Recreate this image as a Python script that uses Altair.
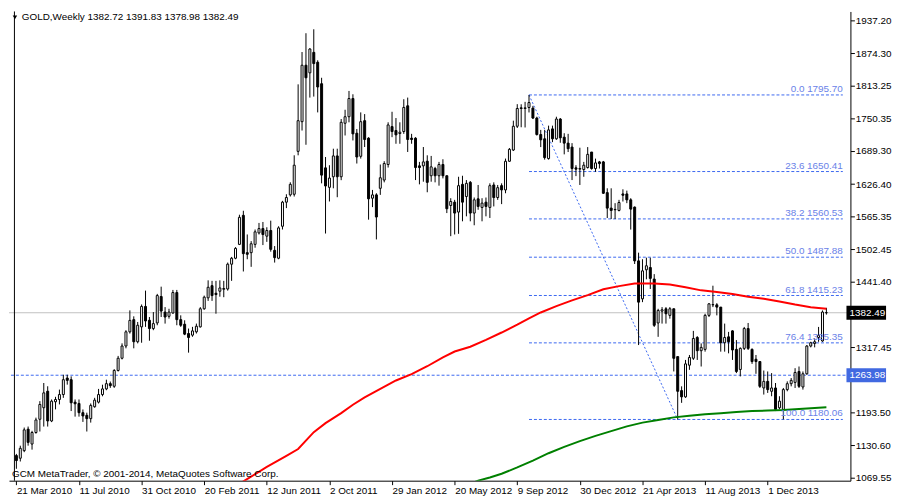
import altair as alt
import pandas as pd

# ---------------- data ----------------
date_labels = ["21 Mar 2010", "11 Jul 2010", "31 Oct 2010", "20 Feb 2011", "12 Jun 2011",
               "2 Oct 2011", "29 Jan 2012", "20 May 2012", "9 Sep 2012", "30 Dec 2012",
               "21 Apr 2013", "11 Aug 2013", "1 Dec 2013"]
label_bars = [0, 16, 32, 48, 64, 80, 96, 112, 128, 144, 160, 176, 192]

price_ticks = [1937.20, 1874.30, 1813.25, 1750.35, 1689.30, 1626.40, 1565.35, 1502.45,
               1441.40, 1378.50, 1317.45, 1254.55, 1193.50, 1130.60, 1069.55]
hidden_ticks = [1378.50, 1254.55]   # covered by the price boxes in the original

opens = [
    1111.5, 1106.5, 1120.9, 1161.6, 1133.4, 1155.3, 1180.4, 1202.3, 1233.6, 1177.2,
    1213.6, 1217.9, 1227.3, 1258.6, 1255.5, 1212.9, 1210.4, 1192.9, 1187.9, 1181.6,
    1204.2, 1212.9, 1227.3, 1238.0, 1248.0, 1243.0, 1273.0, 1296.2, 1319.4, 1346.3,
    1369.4, 1327.5, 1355.7, 1394.5, 1368.2, 1352.5, 1363.2, 1413.3, 1383.8, 1375.7,
    1382.0, 1420.8, 1369.4, 1360.7, 1343.1, 1340.0, 1346.3, 1355.7, 1390.0, 1410.8,
    1433.9, 1419.5, 1423.3, 1427.0, 1427.6, 1474.6, 1485.9, 1512.2, 1567.3, 1496.5,
    1496.5, 1512.2, 1534.0, 1542.2, 1527.8, 1538.5, 1500.9, 1485.9, 1546.6, 1592.3,
    1606.1, 1607.3, 1688.7, 1745.0, 1852.1, 1837.7, 1876.5, 1857.7, 1817.0, 1657.4,
    1620.4, 1640.5, 1680.0, 1640.5, 1742.0, 1754.4, 1788.9, 1723.1, 1679.3, 1746.9,
    1713.7, 1599.8, 1606.1, 1618.6, 1634.2, 1663.7, 1735.7, 1728.2, 1722.5, 1726.3,
    1775.1, 1713.7, 1713.7, 1661.2, 1661.2, 1670.0, 1642.4, 1656.2, 1642.4, 1663.7,
    1642.4, 1586.0, 1592.3, 1573.5, 1626.1, 1603.0, 1629.9, 1571.6, 1598.6, 1582.3,
    1592.3, 1582.3, 1624.9, 1601.1, 1623.6, 1615.5, 1669.9, 1691.2, 1736.3, 1771.3,
    1770.0, 1771.9, 1770.7, 1751.9, 1720.6, 1712.5, 1675.0, 1731.3, 1712.5, 1750.0,
    1715.6, 1704.3, 1696.8, 1657.4, 1655.0, 1654.2, 1658.0, 1687.4, 1656.1, 1668.7,
    1668.7, 1610.4, 1581.0, 1577.9, 1576.6, 1607.9, 1607.9, 1596.7, 1582.9, 1480.9,
    1408.9, 1464.0, 1468.3, 1446.4, 1363.1, 1385.6, 1390.0, 1377.5, 1390.0, 1299.3,
    1234.8, 1222.9, 1283.0, 1296.1, 1335.6, 1310.5, 1313.0, 1377.5, 1397.5, 1397.5,
    1393.2, 1325.6, 1336.8, 1348.1, 1313.0, 1274.9, 1314.9, 1352.5, 1313.0, 1294.3,
    1289.9, 1239.8, 1252.3, 1233.5, 1239.8, 1202.2, 1199.1, 1236.7, 1247.9, 1250.4,
    1271.1, 1241.7, 1266.7, 1319.3, 1324.3, 1335.6, 1329.0, 1382.72]

highs = [
    1114.7, 1130.3, 1164.7, 1166.6, 1158.5, 1183.5, 1214.8, 1249.2, 1243.0, 1218.0,
    1223.0, 1236.7, 1264.9, 1264.9, 1261.8, 1218.0, 1218.0, 1199.0, 1192.9, 1210.4,
    1221.1, 1238.0, 1246.0, 1255.5, 1252.0, 1275.5, 1300.6, 1324.4, 1349.4, 1387.0,
    1375.7, 1365.0, 1398.2, 1424.5, 1374.4, 1383.8, 1418.3, 1432.0, 1393.2, 1390.0,
    1425.8, 1425.8, 1377.6, 1368.2, 1352.5, 1355.7, 1361.9, 1393.2, 1415.0, 1444.0,
    1443.0, 1443.0, 1444.0, 1443.0, 1477.7, 1488.4, 1507.0, 1568.5, 1576.0, 1531.0,
    1518.4, 1540.4, 1552.9, 1554.7, 1544.7, 1557.2, 1509.0, 1546.6, 1594.8, 1607.3,
    1630.0, 1681.2, 1815.8, 1877.1, 1912.8, 1884.6, 1920.3, 1861.5, 1828.3, 1678.0,
    1662.4, 1693.7, 1693.7, 1750.0, 1767.6, 1803.3, 1797.0, 1731.0, 1762.6, 1759.4,
    1715.6, 1615.5, 1609.2, 1663.7, 1670.0, 1743.8, 1763.8, 1751.9, 1743.8, 1787.6,
    1790.7, 1721.9, 1715.6, 1668.7, 1696.9, 1681.2, 1680.0, 1659.3, 1668.7, 1673.7,
    1643.0, 1599.8, 1596.7, 1640.5, 1642.4, 1634.2, 1632.4, 1601.1, 1624.9, 1599.8,
    1601.1, 1628.0, 1629.9, 1624.9, 1628.0, 1675.0, 1695.0, 1746.9, 1778.2, 1778.0,
    1782.6, 1795.7, 1775.0, 1754.4, 1729.4, 1729.4, 1737.5, 1737.5, 1754.4, 1751.9,
    1723.1, 1721.9, 1704.3, 1662.4, 1695.6, 1668.7, 1696.8, 1687.4, 1674.9, 1670.5,
    1670.5, 1618.6, 1618.6, 1590.4, 1596.7, 1616.7, 1614.2, 1599.8, 1584.1, 1496.5,
    1484.0, 1487.0, 1487.0, 1455.8, 1390.0, 1393.2, 1393.2, 1393.2, 1390.5, 1299.3,
    1242.9, 1293.0, 1302.4, 1348.1, 1338.1, 1324.3, 1380.6, 1400.7, 1433.8, 1400.7,
    1393.2, 1361.9, 1346.2, 1349.3, 1330.6, 1316.8, 1355.6, 1363.1, 1314.9, 1302.4,
    1289.9, 1272.9, 1271.1, 1268.0, 1249.2, 1224.1, 1239.8, 1252.3, 1258.6, 1277.3,
    1280.5, 1271.1, 1321.2, 1327.4, 1333.7, 1355.6, 1386.9, 1391.83]

lows = [
    1086.5, 1100.3, 1118.0, 1130.3, 1122.8, 1153.0, 1157.2, 1166.6, 1166.6, 1175.0,
    1199.2, 1208.6, 1221.1, 1246.1, 1196.0, 1185.4, 1185.4, 1175.4, 1157.2, 1174.1,
    1202.3, 1210.4, 1224.0, 1235.5, 1240.0, 1240.0, 1271.0, 1294.0, 1315.0, 1343.0,
    1315.0, 1324.4, 1325.6, 1355.7, 1329.4, 1349.4, 1358.8, 1374.4, 1361.9, 1371.3,
    1380.7, 1358.8, 1355.7, 1340.0, 1306.8, 1336.9, 1343.1, 1354.4, 1388.2, 1405.0,
    1405.0, 1380.7, 1413.0, 1412.0, 1424.5, 1443.0, 1484.0, 1510.9, 1460.8, 1484.0,
    1469.6, 1505.9, 1531.0, 1510.9, 1517.0, 1498.4, 1477.7, 1484.0, 1540.4, 1581.0,
    1603.0, 1603.0, 1681.2, 1728.2, 1701.2, 1790.7, 1792.6, 1762.6, 1628.0, 1532.8,
    1593.6, 1618.6, 1601.7, 1634.0, 1718.8, 1743.8, 1709.4, 1665.6, 1675.0, 1696.9,
    1559.1, 1582.9, 1521.6, 1606.1, 1629.9, 1658.0, 1715.6, 1703.1, 1703.1, 1721.9,
    1687.5, 1703.1, 1634.2, 1626.1, 1631.1, 1611.1, 1631.1, 1629.9, 1623.6, 1637.4,
    1571.6, 1527.8, 1531.0, 1532.2, 1556.0, 1565.4, 1556.0, 1548.5, 1577.9, 1556.0,
    1565.4, 1562.3, 1584.2, 1596.7, 1588.6, 1609.2, 1668.7, 1689.3, 1733.0, 1734.4,
    1734.0, 1762.5, 1750.0, 1718.7, 1696.8, 1673.0, 1673.0, 1706.2, 1710.6, 1705.0,
    1683.0, 1687.4, 1634.2, 1641.7, 1624.9, 1640.5, 1656.1, 1654.0, 1649.9, 1656.1,
    1607.9, 1562.2, 1560.4, 1560.4, 1574.8, 1593.5, 1590.4, 1540.3, 1475.0, 1321.2,
    1402.6, 1446.0, 1427.6, 1355.6, 1336.8, 1361.9, 1361.9, 1371.3, 1271.1, 1180.0,
    1211.6, 1221.0, 1274.2, 1293.0, 1293.0, 1280.5, 1308.7, 1374.4, 1393.2, 1377.5,
    1308.7, 1308.7, 1305.5, 1293.0, 1268.0, 1261.7, 1311.8, 1311.8, 1285.5, 1266.7,
    1239.8, 1227.3, 1230.4, 1224.1, 1196.0, 1199.1, 1180.3, 1233.5, 1242.9, 1239.8,
    1239.8, 1236.7, 1264.8, 1316.8, 1316.8, 1327.4, 1327.4, 1378.98]

closes = [
    1102.1, 1125.3, 1160.3, 1136.6, 1155.3, 1179.1, 1208.5, 1230.5, 1177.2, 1214.8,
    1217.9, 1227.3, 1255.5, 1254.2, 1211.7, 1209.8, 1192.9, 1186.7, 1181.6, 1206.7,
    1216.7, 1227.3, 1238.0, 1248.0, 1244.2, 1273.0, 1296.2, 1319.4, 1346.3, 1368.0,
    1327.5, 1358.8, 1394.5, 1366.9, 1352.5, 1361.9, 1415.1, 1385.7, 1374.4, 1383.8,
    1420.8, 1369.4, 1358.8, 1341.9, 1335.6, 1348.1, 1356.9, 1390.0, 1412.0, 1430.8,
    1415.1, 1417.0, 1429.5, 1428.5, 1474.6, 1485.9, 1504.6, 1563.5, 1494.6, 1493.4,
    1513.4, 1536.0, 1542.2, 1530.9, 1538.5, 1502.8, 1487.1, 1543.5, 1592.3, 1601.1,
    1626.1, 1662.4, 1746.9, 1852.1, 1828.3, 1882.8, 1855.2, 1810.8, 1643.6, 1623.0,
    1638.0, 1680.0, 1640.5, 1743.8, 1754.4, 1788.9, 1721.9, 1678.0, 1745.0, 1711.2,
    1598.6, 1606.1, 1564.1, 1638.6, 1665.6, 1738.8, 1726.3, 1720.0, 1725.0, 1772.0,
    1711.2, 1711.2, 1658.0, 1658.0, 1668.7, 1629.9, 1659.3, 1642.4, 1663.7, 1642.4,
    1579.8, 1593.6, 1571.6, 1623.6, 1592.3, 1628.0, 1571.6, 1596.7, 1584.2, 1590.5,
    1584.2, 1623.6, 1601.1, 1619.8, 1615.5, 1669.9, 1692.5, 1736.3, 1770.0, 1770.0,
    1771.3, 1781.3, 1751.9, 1720.6, 1710.6, 1676.8, 1729.4, 1712.5, 1750.0, 1714.4,
    1704.3, 1693.7, 1656.1, 1654.9, 1656.1, 1662.4, 1683.0, 1656.1, 1666.8, 1665.5,
    1609.2, 1581.0, 1576.6, 1578.5, 1591.7, 1605.4, 1596.7, 1579.1, 1480.9, 1402.6,
    1462.0, 1471.6, 1447.7, 1358.7, 1386.9, 1388.1, 1380.6, 1390.0, 1296.1, 1233.5,
    1222.9, 1285.5, 1297.6, 1333.7, 1310.5, 1316.8, 1377.5, 1399.4, 1398.0, 1393.2,
    1325.6, 1335.6, 1327.4, 1311.8, 1271.1, 1314.9, 1352.5, 1314.9, 1289.9, 1289.9,
    1242.9, 1252.3, 1236.7, 1239.8, 1199.1, 1214.8, 1236.7, 1247.9, 1254.2, 1269.2,
    1242.9, 1266.7, 1319.3, 1325.6, 1327.4, 1339.9, 1383.8, 1382.49]

# moving averages (read at sample bars)
ma_red_bar = [57, 64, 69, 72, 76, 79, 83, 86, 89, 93, 97, 101, 105, 109, 112, 116, 120,
              124, 128, 131, 134, 138, 142, 146, 150, 154, 158, 163, 167, 171, 175, 179,
              183, 187, 191, 195, 199, 203, 207]
ma_red_val = [1058, 1090, 1111, 1124, 1156, 1173, 1192, 1208, 1222, 1238, 1254, 1266, 1281,
              1298, 1309, 1318, 1331, 1345, 1360, 1372, 1383, 1395, 1406, 1416, 1427, 1433,
              1438, 1438, 1436, 1431, 1425, 1422, 1418, 1413, 1409, 1404, 1398, 1393, 1390]
ma_green_bar = [116, 118, 121, 124, 128, 132, 136, 140, 144, 148, 152, 156, 160, 164, 168,
                172, 176, 180, 184, 188, 192, 196, 200, 204, 207]
ma_green_val = [1058, 1064, 1070, 1077, 1089, 1102, 1116, 1128, 1139, 1149, 1158, 1167,
                1174, 1179, 1184, 1187, 1190, 1192, 1194, 1196, 1197, 1198, 1200, 1202, 1203]

fib_start_bar = 131
fib_end_bar = 169
fib_pct = ["0.0", "23.6", "38.2", "50.0", "61.8", "76.4", "100.0"]
fib_price = [1795.70, 1650.41, 1560.53, 1487.88, 1415.23, 1325.35, 1180.06]

bid_price = 1382.49
hline_price = 1263.98
header_text = "GOLD,Weekly  1382.72 1391.83 1378.98 1382.49"
copyright_text = "GCM MetaTrader, \u00a9 2001-2014, MetaQuotes Software Corp."

# ---------------- layout / style ----------------
FONT = "Liberation Sans"
FS = 10
W, H = 850, 474
XMIN, XMAX = -0.625, 211.875
YMIN, YMAX = 1063.9, 1954.1
XR = 211.2
FIB_LINE = "#3c68f0"
FIB_TEXT = "#6a82e8"
BOX_BLUE = "#4169e1"
DASH = [3, 2]

xs = alt.Scale(domain=[XMIN, XMAX], nice=False, zero=False)
ys = alt.Scale(domain=[YMIN, YMAX], nice=False, zero=False)

label_expr = "[" + ",".join("'%s'" % d for d in date_labels) + "][round(datum.value / 16)]"
hide_cond = " || ".join("abs(datum.value - %s) < 0.01" % v for v in hidden_ticks)
ylabel_expr = "(%s) ? '' : format(datum.value, '.2f')" % hide_cond

xaxis = alt.Axis(values=label_bars, labelExpr=label_expr, grid=False, tickSize=4,
                 labelPadding=1, labelAlign="left", labelFlush=False, labelOverlap=False,
                 labelFont=FONT, labelFontSize=FS, labelColor="black", domainColor="black",
                 tickColor="black", title=None)
yaxis = alt.Axis(orient="right", values=price_ticks, labelExpr=ylabel_expr, grid=False,
                 tickSize=4, labelPadding=1, labelFont=FONT, labelFontSize=FS,
                 labelColor="black", domainColor="black", tickColor="black",
                 labelOverlap=False, labelFlush=False, title=None)


def X(f):
    return alt.X(f, scale=xs, axis=xaxis)


def Y(f):
    return alt.Y(f, scale=ys, axis=yaxis)


candles = pd.DataFrame({"i": list(range(len(closes))), "o": opens, "h": highs,
                        "l": lows, "c": closes})
candles["fill"] = ["white" if c >= o else "black" for o, c in zip(opens, closes)]

bid_rule = alt.Chart(pd.DataFrame({"p": [bid_price]})).mark_rule(
    color="#c0c0c0", strokeWidth=1).encode(y=Y("p:Q"))
h_rule = alt.Chart(pd.DataFrame({"p": [hline_price]})).mark_rule(
    color=FIB_LINE, strokeWidth=1, strokeDash=DASH).encode(y=Y("p:Q"))

fib = pd.DataFrame({"x1": [fib_start_bar] * len(fib_price), "x2": [XR] * len(fib_price),
                    "p": fib_price,
                    "label": ["%s %.2f" % (a, b) for a, b in zip(fib_pct, fib_price)]})
fib_lines = alt.Chart(fib).mark_rule(color=FIB_LINE, strokeWidth=1, strokeDash=DASH).encode(
    x=X("x1:Q"), x2="x2:Q", y=Y("p:Q"))
fib_text = alt.Chart(fib).mark_text(align="right", baseline="alphabetic", dy=-3, font=FONT,
                                    fontSize=FS, color=FIB_TEXT).encode(
    x=X("x2:Q"), y=Y("p:Q"), text="label:N")
trend = alt.Chart(pd.DataFrame({"b": [fib_start_bar, fib_end_bar],
                                "p": [fib_price[0], fib_price[-1]]})).mark_line(
    color=FIB_LINE, strokeWidth=1, strokeDash=[2, 2]).encode(x=X("b:Q"), y=Y("p:Q"))

red = alt.Chart(pd.DataFrame({"b": ma_red_bar, "v": ma_red_val})).mark_line(
    color="#ff0000", strokeWidth=2, clip=True).encode(x=X("b:Q"), y=Y("v:Q"))
green = alt.Chart(pd.DataFrame({"b": ma_green_bar, "v": ma_green_val})).mark_line(
    color="#008000", strokeWidth=2, clip=True).encode(x=X("b:Q"), y=Y("v:Q"))

wicks = alt.Chart(candles).mark_rule(color="black", strokeWidth=1).encode(
    x=X("i:Q"), y=Y("l:Q"), y2="h:Q")
bodies = alt.Chart(candles).mark_bar(size=2, stroke="black", strokeWidth=1).encode(
    x=X("i:Q"), y=Y("o:Q"), y2="c:Q", fill=alt.Fill("fill:N", scale=None))

left_border = alt.Chart(pd.DataFrame({"xb": [XMIN + 0.125]})).mark_rule(
    color="black", strokeWidth=1).encode(x=X("xb:Q"))

boxes = pd.DataFrame({"xe": [XMAX, XMAX], "p": [bid_price, hline_price],
                      "label": ["%.2f" % bid_price, "%.2f" % hline_price],
                      "bg": ["black", BOX_BLUE]})
box_rect = alt.Chart(boxes).mark_rect(xOffset=1, x2Offset=41, yOffset=-7, y2Offset=7).encode(
    x=X("xe:Q"), x2="xe:Q", y=Y("p:Q"), y2="p:Q", fill=alt.Fill("bg:N", scale=None))
box_text = alt.Chart(boxes).mark_text(align="left", baseline="middle", dx=4, font=FONT,
                                      fontSize=FS, color="white").encode(
    x=X("xe:Q"), y=Y("p:Q"), text="label:N")

header = alt.Chart(pd.DataFrame({"t": [header_text]})).mark_text(
    align="left", baseline="middle", font=FONT, fontSize=FS, color="black").encode(
    x=alt.value(13), y=alt.value(6), text="t:N")
arrow = alt.Chart(pd.DataFrame({"t": ["v"]})).mark_point(
    shape="triangle-down", filled=True, color="black", size=20, opacity=1).encode(
    x=alt.value(6), y=alt.value(6))
copyright = alt.Chart(pd.DataFrame({"t": [copyright_text]})).mark_text(
    align="left", baseline="middle", font=FONT, fontSize=FS, color="black").encode(
    x=alt.value(3), y=alt.value(467), text="t:N")

chart = alt.layer(
    bid_rule, h_rule, fib_lines, trend, wicks, bodies, red, green, fib_text,
    left_border, box_rect, box_text, header, arrow, copyright
).properties(width=W, height=H, padding=0).configure(
    background="white"
).configure_view(stroke=None)

chart.save("out.html", embed_options={"renderer": "svg", "actions": False})
